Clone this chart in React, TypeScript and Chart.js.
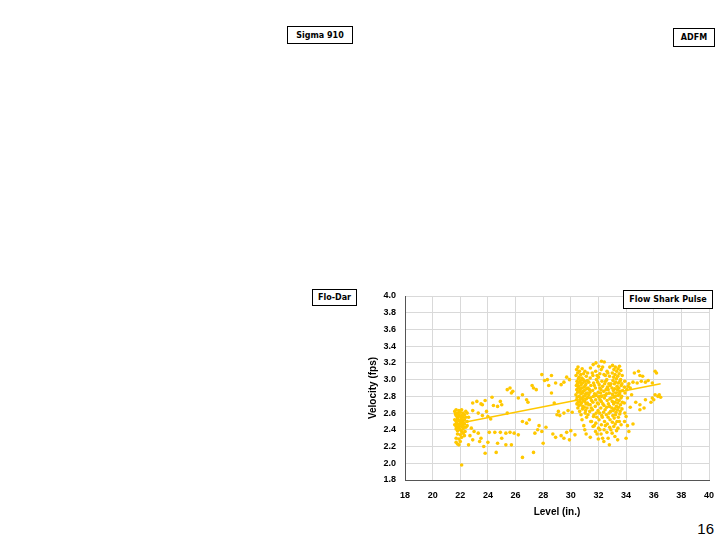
import React, { useEffect, useRef } from "react";
import { Chart, registerables } from "chart.js";

Chart.register(...registerables);

// ---- Axis ticks ----
const levelTicks = [18, 20, 22, 24, 26, 28, 30, 32, 34, 36, 38, 40];
const velocityTicks = [1.8, 2.0, 2.2, 2.4, 2.6, 2.8, 3.0, 3.2, 3.4, 3.6, 3.8, 4.0];

// ---- Data: [level (in.), velocity (fps)] ----
const clusterNear22: number[][] = [
  [21.6, 2.62], [21.7, 2.64], [21.8, 2.6], [21.9, 2.63], [22.0, 2.61], [22.1, 2.64], [22.2, 2.6],
  [21.7, 2.57], [21.8, 2.55], [21.9, 2.58], [22.0, 2.56], [22.1, 2.57], [22.2, 2.55], [22.3, 2.58],
  [21.6, 2.52], [21.7, 2.5], [21.8, 2.53], [21.9, 2.51], [22.0, 2.5], [22.1, 2.52], [22.2, 2.49],
  [22.3, 2.52], [22.4, 2.55], [21.6, 2.46], [21.7, 2.44], [21.8, 2.47], [21.9, 2.45], [22.0, 2.47],
  [22.1, 2.44], [22.2, 2.46], [22.3, 2.47], [21.7, 2.41], [21.8, 2.39], [21.9, 2.42], [22.0, 2.4],
  [22.1, 2.38], [22.2, 2.41], [22.4, 2.43], [22.5, 2.45], [21.8, 2.35], [22.0, 2.34], [22.2, 2.36],
  [22.3, 2.33], [21.7, 2.3], [21.9, 2.29], [22.1, 2.31], [21.7, 2.25], [21.8, 2.23], [21.9, 2.22],
  [22.0, 2.26], [22.5, 2.5], [22.6, 2.55], [22.4, 2.62], [22.5, 2.6], [21.65, 2.59], [21.75, 2.48],
  [21.85, 2.43], [22.05, 2.53], [22.15, 2.48], [22.25, 2.43], [22.35, 2.38], [22.1, 1.98],
];

const scatterMid: number[][] = [
  [22.9, 2.72], [23.2, 2.74], [23.5, 2.71], [23.8, 2.75], [23.6, 2.7], [24.3, 2.79], [24.4, 2.69],
  [24.7, 2.68], [25.0, 2.7], [24.9, 2.74], [22.9, 2.63], [23.3, 2.6], [23.6, 2.57], [24.0, 2.56],
  [24.2, 2.53], [23.9, 2.62], [25.4, 2.6], [25.4, 2.88], [25.6, 2.9], [25.8, 2.86], [25.7, 2.84],
  [26.5, 2.82], [26.8, 2.76], [26.9, 2.73], [26.2, 2.78], [27.2, 2.93], [26.5, 2.5], [26.8, 2.48],
  [27.0, 2.52], [22.8, 2.42], [23.0, 2.38], [22.7, 2.33], [23.3, 2.36], [22.9, 2.28], [22.6, 2.22],
  [23.5, 2.3], [23.4, 2.26], [24.0, 2.25], [24.1, 2.37], [23.7, 2.2], [23.8, 2.12], [24.5, 2.37],
  [24.9, 2.37], [25.3, 2.36], [25.6, 2.37], [25.9, 2.36], [26.2, 2.34], [25.0, 2.3], [25.3, 2.22],
  [25.7, 2.22], [24.7, 2.24], [24.6, 2.13], [26.5, 2.07],
  [27.9, 3.06], [28.1, 2.99], [28.3, 3.0], [28.6, 3.05], [28.4, 2.93], [28.9, 2.96], [29.3, 2.94],
  [29.7, 3.03], [29.9, 3.0], [29.5, 2.97], [28.6, 2.84], [28.8, 2.72], [27.3, 2.9], [27.5, 2.88],
  [29.1, 2.62], [29.5, 2.6], [29.8, 2.63], [30.1, 2.61], [29.0, 2.58], [29.2, 2.57], [27.4, 2.36],
  [27.6, 2.4], [27.7, 2.45], [27.9, 2.38], [28.2, 2.43], [28.0, 2.24], [27.3, 2.13], [28.7, 2.35],
  [28.9, 2.31], [29.3, 2.33], [29.7, 2.37], [30.0, 2.39], [29.5, 2.3], [30.3, 2.34], [29.9, 2.28],
];

const clusterNear32: number[][] = [
  [30.42, 3.12], [30.38, 3.05], [30.45, 2.98], [30.4, 2.93], [30.43, 2.88], [30.37, 2.82], [30.41, 2.76], [30.44, 2.71],
  [30.52, 3.15], [30.5, 3.08], [30.55, 3.01], [30.48, 2.95], [30.53, 2.9], [30.5, 2.85], [30.47, 2.79], [30.54, 2.73], [30.51, 2.66],
  [30.62, 3.1], [30.6, 3.03], [30.65, 2.97], [30.58, 2.92], [30.63, 2.86], [30.6, 2.8], [30.66, 2.74], [30.59, 2.69], [30.64, 2.62],
  [30.72, 3.06], [30.7, 2.99], [30.75, 2.94], [30.68, 2.88], [30.73, 2.83], [30.71, 2.77], [30.69, 2.7], [30.74, 2.58],
  [30.82, 3.13], [30.8, 3.02], [30.85, 2.96], [30.78, 2.9], [30.83, 2.84], [30.8, 2.78], [30.77, 2.72], [30.84, 2.65], [30.81, 2.52],
  [30.92, 3.07], [30.9, 3.0], [30.95, 2.91], [30.88, 2.86], [30.93, 2.8], [30.9, 2.75], [30.87, 2.68], [30.94, 2.45],
  [31.02, 3.1], [31.0, 2.98], [31.05, 2.93], [30.98, 2.87], [31.03, 2.81], [31.0, 2.74], [30.97, 2.67], [31.04, 2.6], [31.01, 2.4],
  [31.12, 3.04], [31.1, 2.95], [31.15, 2.89], [31.08, 2.83], [31.13, 2.77], [31.1, 2.71], [31.07, 2.63], [31.14, 2.55], [31.11, 2.35],
  [31.22, 3.08], [31.2, 2.99], [31.25, 2.9], [31.18, 2.84], [31.23, 2.79], [31.2, 2.72], [31.17, 2.66], [31.24, 2.58],
  [31.42, 3.14], [31.4, 3.02], [31.45, 2.93], [31.38, 2.85], [31.43, 2.78], [31.4, 2.7], [31.37, 2.62], [31.44, 2.5], [31.41, 2.31],
  [31.62, 3.18], [31.6, 3.05], [31.65, 2.96], [31.58, 2.87], [31.63, 2.8], [31.6, 2.73], [31.57, 2.64], [31.64, 2.56], [31.61, 2.44],
  [31.82, 3.2], [31.8, 3.1], [31.85, 3.0], [31.78, 2.9], [31.83, 2.82], [31.8, 2.76], [31.77, 2.68], [31.84, 2.6], [31.81, 2.48], [31.79, 2.38],
  [32.02, 3.16], [32.0, 3.03], [32.05, 2.94], [31.98, 2.85], [32.03, 2.79], [32.0, 2.71], [31.97, 2.63], [32.04, 2.52], [32.01, 2.42], [31.99, 2.29],
  [32.22, 3.22], [32.2, 3.12], [32.25, 2.98], [32.18, 2.88], [32.23, 2.8], [32.2, 2.74], [32.17, 2.66], [32.24, 2.57], [32.21, 2.46], [32.19, 2.35],
  [32.42, 3.21], [32.4, 3.06], [32.45, 2.95], [32.38, 2.86], [32.43, 2.78], [32.4, 2.69], [32.37, 2.61], [32.44, 2.5], [32.41, 2.4], [32.39, 2.26],
  [32.62, 3.1], [32.6, 3.0], [32.65, 2.91], [32.58, 2.83], [32.63, 2.75], [32.6, 2.67], [32.57, 2.58], [32.64, 2.47], [32.61, 2.37],
  [32.82, 3.15], [32.8, 3.04], [32.85, 2.93], [32.78, 2.84], [32.83, 2.77], [32.8, 2.68], [32.77, 2.6], [32.84, 2.52], [32.81, 2.43], [32.79, 2.22],
  [33.02, 3.17], [33.0, 3.08], [33.05, 2.99], [32.98, 2.9], [33.03, 2.82], [33.0, 2.74], [32.97, 2.66], [33.04, 2.57], [33.01, 2.49], [32.99, 2.36],
  [33.12, 3.12], [33.1, 3.03], [33.15, 2.95], [33.08, 2.87], [33.13, 2.79], [33.1, 2.71], [33.07, 2.63], [33.14, 2.54], [33.11, 2.44],
  [33.22, 3.15], [33.2, 3.06], [33.25, 2.97], [33.18, 2.89], [33.23, 2.8], [33.2, 2.73], [33.17, 2.65], [33.24, 2.58], [33.21, 2.47], [33.19, 2.32],
  [33.32, 3.1], [33.3, 3.01], [33.35, 2.92], [33.28, 2.84], [33.33, 2.76], [33.3, 2.68], [33.27, 2.61], [33.34, 2.5], [33.31, 2.39],
  [33.42, 3.13], [33.4, 3.04], [33.45, 2.96], [33.38, 2.88], [33.43, 2.81], [33.4, 2.72], [33.37, 2.64], [33.44, 2.55], [33.41, 2.42], [33.39, 2.28],
  [33.52, 3.16], [33.5, 3.07], [33.55, 2.98], [33.48, 2.9], [33.53, 2.83], [33.5, 2.75], [33.47, 2.67], [33.54, 2.59], [33.51, 2.5],
  [33.62, 3.11], [33.6, 3.0], [33.65, 2.93], [33.58, 2.86], [33.63, 2.78], [33.6, 2.7], [33.57, 2.62], [33.64, 2.46],
  [33.72, 3.05], [33.7, 2.95], [33.75, 2.87], [33.68, 2.8], [33.73, 2.73], [33.7, 2.65],
  [33.9, 2.98], [33.88, 2.91], [33.92, 2.84], [33.87, 2.72], [33.91, 2.6], [33.89, 2.5],
];

const clusterNear32Fill: number[][] = [
  [31.3, 2.97], [31.35, 2.88], [31.5, 2.75], [31.55, 3.08], [31.48, 2.66], [31.7, 2.93], [31.72, 2.83],
  [31.68, 2.58], [31.9, 3.05], [31.92, 2.72], [31.88, 2.55], [32.1, 2.9], [32.12, 2.76], [32.08, 2.6],
  [32.1, 3.07], [32.3, 2.92], [32.32, 2.71], [32.28, 2.55], [32.3, 3.15], [32.5, 2.81], [32.52, 2.98],
  [32.48, 2.64], [32.5, 3.05], [32.7, 2.88], [32.72, 2.71], [32.68, 3.08], [32.7, 2.55], [32.9, 2.95],
  [32.92, 2.78], [32.88, 2.62], [31.3, 2.7], [31.5, 2.5], [31.7, 2.45], [31.9, 2.35], [32.1, 2.4],
  [32.3, 2.3], [32.5, 2.45], [32.7, 2.3], [32.9, 2.4], [31.3, 2.82], [31.95, 2.97], [32.15, 2.84],
  [32.55, 2.88], [32.75, 2.95], [34.05, 2.88], [34.15, 2.92], [34.1, 2.78], [34.3, 2.9],
];

const tailRight: number[][] = [
  [34.6, 3.08], [34.9, 3.1], [35.0, 3.05], [35.2, 3.04], [36.2, 3.08], [36.1, 3.1],
  [34.5, 2.97], [34.8, 2.96], [35.1, 2.98], [35.4, 2.97], [35.6, 2.99], [35.9, 2.96], [34.2, 2.95],
  [34.4, 2.82], [34.7, 2.73], [35.0, 2.7], [35.4, 2.76], [35.3, 2.66], [35.0, 2.64], [35.8, 2.73],
  [35.9, 2.78], [36.1, 2.82], [36.3, 2.8], [36.5, 2.79], [36.4, 2.82], [36.0, 2.76], [34.3, 2.67],
  [34.0, 2.56], [34.1, 2.45], [34.5, 2.47], [34.2, 2.38], [34.0, 2.3],
];

// Linear trend line end points
const trendLevel = [22.3, 36.5];
const trendVelocity = [2.49, 2.95];

const yAxisTitle = "Velocity (fps)";
const xAxisTitle = "Level (in.)";
const pageNumber = "16";

const GOLD = "#FFC800";

const toXY = (pts: number[][]) => pts.map(([x, y]) => ({ x, y }));

function ScatterChart() {
  const ref = useRef<HTMLCanvasElement | null>(null);

  useEffect(() => {
    if (!ref.current) return;
    const allPoints = [...clusterNear22, ...scatterMid, ...clusterNear32, ...clusterNear32Fill, ...tailRight];
    const tickFont = { family: "'Liberation Sans', Arial, sans-serif", size: 9, weight: "bold" as const };
    const titleFont = { family: "'Liberation Sans', Arial, sans-serif", size: 10, weight: "bold" as const };
    const chart = new Chart(ref.current, {
      type: "scatter",
      data: {
        datasets: [
          {
            label: "Velocity",
            data: toXY(allPoints),
            backgroundColor: GOLD,
            borderColor: GOLD,
            pointRadius: 1.8,
            pointBorderWidth: 0,
            showLine: false,
          },
          {
            label: "Trend",
            data: trendLevel.map((x, i) => ({ x, y: trendVelocity[i] })),
            borderColor: GOLD,
            backgroundColor: GOLD,
            borderWidth: 1.5,
            pointRadius: 0,
            showLine: true,
          },
        ],
      },
      options: {
        responsive: false,
        animation: false,
        events: [],
        layout: { padding: { left: 0, top: 6, right: 6, bottom: 0 } },
        plugins: { legend: { display: false }, tooltip: { enabled: false } },
        scales: {
          x: {
            type: "linear",
            min: 18,
            max: 40,
            afterBuildTicks: (scale: any) => {
              scale.ticks = levelTicks.map((v) => ({ value: v }));
            },
            afterFit: (scale: any) => {
              scale.height = 40;
            },
            grid: { color: "#d9d9d9", drawTicks: true, tickLength: 10, tickColor: "rgba(0,0,0,0)", lineWidth: 1 },
            border: { color: "#555555", width: 1 },
            ticks: { color: "#000", font: tickFont, padding: 0, maxRotation: 0, callback: (v: any) => String(v) },
            title: { display: true, text: xAxisTitle, color: "#000", font: titleFont, padding: { top: 0, bottom: 2 } },
          },
          y: {
            type: "linear",
            min: 1.8,
            max: 4.0,
            afterBuildTicks: (scale: any) => {
              scale.ticks = velocityTicks.map((v) => ({ value: v }));
            },
            afterFit: (scale: any) => {
              scale.width = 45;
            },
            grid: { color: "#d9d9d9", drawTicks: true, tickLength: 9, tickColor: "rgba(0,0,0,0)", lineWidth: 1 },
            border: { color: "#555555", width: 1 },
            ticks: { color: "#000", font: tickFont, padding: 0, callback: (v: any) => Number(v).toFixed(1) },
            title: { display: true, text: yAxisTitle, color: "#000", font: titleFont, padding: { top: 7, bottom: 0 } },
          },
        },
      },
    });
    return () => chart.destroy();
  }, []);

  return <canvas ref={ref} width={355} height={230} style={{ display: "block", width: 355, height: 230 }} />;
}

const boxStyle = (left: number, top: number, width: number, height: number): React.CSSProperties => ({
  position: "absolute",
  left,
  top,
  width,
  height,
  boxSizing: "border-box",
  border: "1px solid #000",
  background: "#fff",
  display: "flex",
  alignItems: "center",
  justifyContent: "center",
  fontFamily: "'DejaVu Sans', Verdana, sans-serif",
  fontWeight: "bold",
  fontSize: 8,
  color: "#000",
  whiteSpace: "nowrap",
  zIndex: 2,
});

export default function App() {
  return (
    <div style={{ position: "fixed", left: 0, top: 0, width: 720, height: 540, background: "#fff", overflow: "hidden" }}>
      <div style={{ position: "absolute", left: 360, top: 290, width: 355, height: 230 }}>
        <ScatterChart />
      </div>
      <div style={boxStyle(287, 26, 66, 18)}>Sigma 910</div>
      <div style={boxStyle(673, 28, 42, 19)}>ADFM</div>
      <div style={boxStyle(312, 289, 45, 17)}>Flo-Dar</div>
      <div style={boxStyle(623, 290, 90, 19)}>Flow Shark Pulse</div>
      <div
        style={{
          position: "absolute",
          left: 690,
          top: 520,
          width: 24,
          textAlign: "right",
          fontFamily: "'Liberation Sans', Arial, sans-serif",
          fontSize: 15,
          color: "#000",
          lineHeight: "18px",
        }}
      >
        {pageNumber}
      </div>
    </div>
  );
}
